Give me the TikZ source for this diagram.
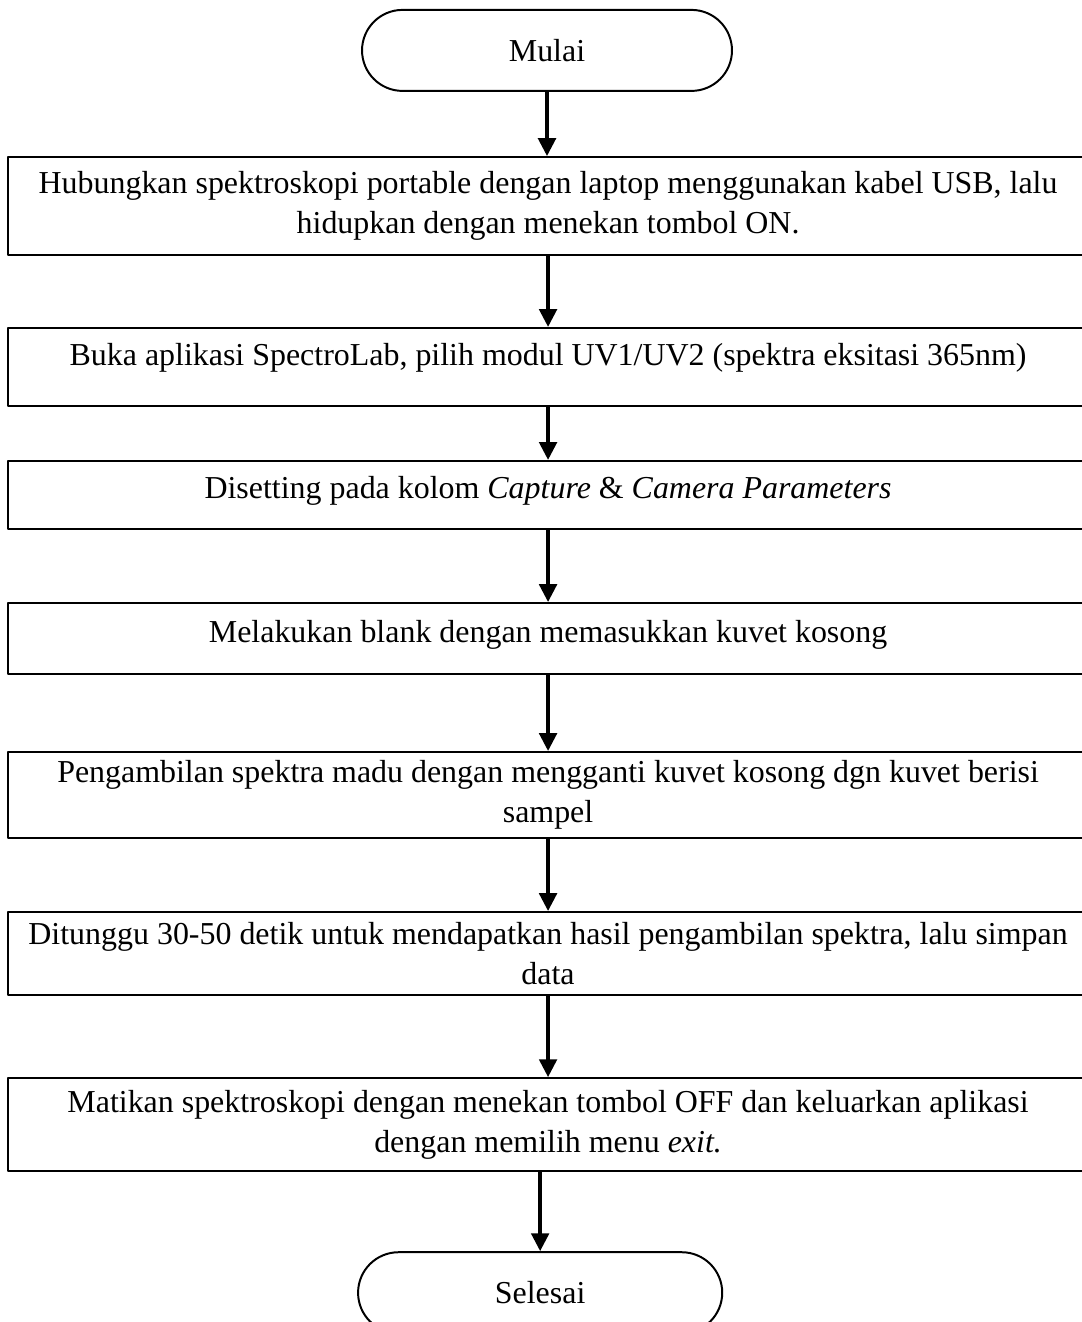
\documentclass[tikz,border=0pt]{standalone}
\usepackage{fontspec}
\setmainfont{Liberation Serif}
\usepackage{tikz}
\usetikzlibrary{arrows.meta}
\usetikzlibrary{shapes.misc, positioning}

\begin{document}
\begin{tikzpicture}[>={Triangle[length=6.8pt,width=6.6pt]},line join=bevel,
  every node/.style={font=\fontsize{12.1}{15.2}\selectfont},
  terminal/.style={draw,rounded rectangle,line width=0.75pt,minimum width=140.2pt,minimum height=30.7pt,inner sep=0pt},
  stepbox/.style={draw,rectangle,line width=0.75pt,minimum width=409.3pt,align=center,inner sep=0pt},
  flowarrow/.style={->,line width=1.5pt}]
\useasboundingbox (0pt,0pt) rectangle (409.7pt,-501.0pt);
%%
\node (start) at (207.3pt,-19.1pt) [terminal] {Mulai};
  \node (box_1) at (207.7pt,-78.1pt) [stepbox,minimum height=37.1pt] {Hubungkan spektroskopi portable dengan laptop menggunakan kabel USB, lalu\\ hidupkan dengan menekan tombol ON.};
  \node (box_2) at (207.7pt,-139.1pt) [stepbox,minimum height=29.6pt,text depth=9.5pt] {Buka aplikasi SpectroLab, pilih modul UV1/UV2 (spektra eksitasi 365nm)};
  \node (box_3) at (207.7pt,-187.6pt) [stepbox,minimum height=25.8pt,text depth=5.5pt] {Disetting pada kolom \textit{Capture} \& \textit{Camera Parameters}};
  \node (box_4) at (207.7pt,-242.0pt) [stepbox,minimum height=26.9pt,text depth=5.5pt] {Melakukan blank dengan memasukkan kuvet kosong};
  \node (box_5) at (207.7pt,-301.3pt) [stepbox,minimum height=32.6pt] {Pengambilan spektra madu dengan mengganti kuvet kosong dgn kuvet berisi\\ sampel};
  \node (box_6) at (207.7pt,-361.4pt) [stepbox,minimum height=31.5pt] {Ditunggu 30-50 detik untuk mendapatkan hasil pengambilan spektra, lalu simpan\\ data};
  \node (box_7) at (207.7pt,-426.2pt) [stepbox,minimum height=35.2pt] {Matikan spektroskopi dengan menekan tombol OFF dan keluarkan aplikasi\\ dengan memilih menu \textit{exit.}};
  \node (stop) at (204.7pt,-489.9pt) [terminal,minimum width=138pt] {Selesai};
  \draw [flowarrow] (start.south) -- (start.south |- box_1.north);
  \draw [flowarrow] (box_1.south) -- (box_2.north);
  \draw [flowarrow] (box_2.south) -- (box_3.north);
  \draw [flowarrow] (box_3.south) -- (box_4.north);
  \draw [flowarrow] (box_4.south) -- (box_5.north);
  \draw [flowarrow] (box_5.south) -- (box_6.north);
  \draw [flowarrow] (box_6.south) -- (box_7.north);
  \draw [flowarrow] (stop.north |- box_7.south) -- (stop.north);
%
\end{tikzpicture}
\end{document}
